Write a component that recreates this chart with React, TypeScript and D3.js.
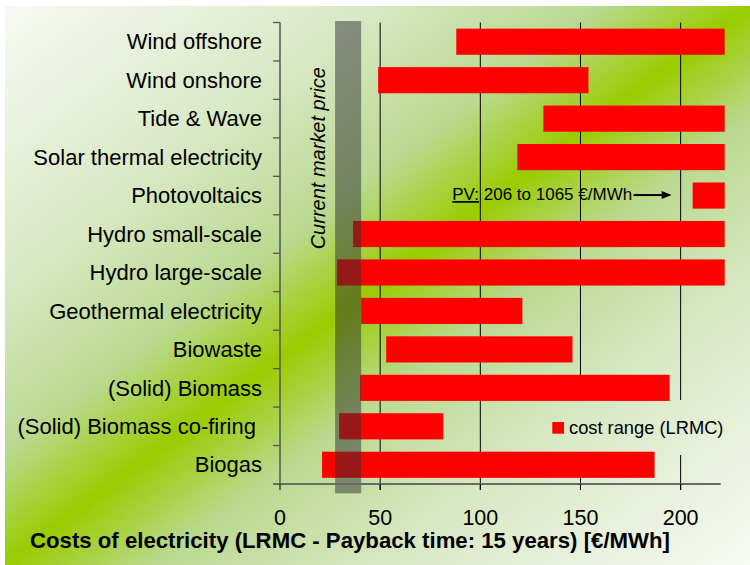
import React from "react";
import * as d3 from "d3";

const categories = [
  "Wind offshore",
  "Wind onshore",
  "Tide & Wave",
  "Solar thermal electricity",
  "Photovoltaics",
  "Hydro small-scale",
  "Hydro large-scale",
  "Geothermal electricity",
  "Biowaste",
  "(Solid) Biomass",
  "(Solid) Biomass co-firing ",
  "Biogas",
];
const costLow = [88, 49, 131.5, 118.5, 206, 36.5, 28.5, 40.5, 53, 40, 29.5, 21];
const costHigh = [222, 154, 222, 222, 222, 222, 222, 121, 146, 194.5, 81.5, 187];
const xTicks = [0, 50, 100, 150, 200];
const gridTicks = [50, 100, 150, 200];
const marketPrice = [27.5, 40.5];
const xDomain = [0, 220];
const legendLabel = "cost range (LRMC)";
const xTitle = "Costs of electricity (LRMC - Payback time: 15 years) [€/MWh]";
const bandLabel = "Current market price";
const pvNoteLead = "PV:";
const pvNoteRest = " 206 to 1065 €/MWh";
const pvNoteX = 86;
const pvArrow = [176.5, 195.5];

const W = 750;
const H = 565;
const FONT = "'Liberation Sans', Arial, sans-serif";

export default function App() {
  const left = 280;
  const right = 720.7;
  const top = 22.5;
  const bottom = 484;
  const x = d3.scaleLinear().domain(xDomain).range([left, right]);
  const y = d3
    .scaleBand<string>()
    .domain(categories)
    .range([top, bottom])
    .paddingInner(0.32)
    .paddingOuter(0.16);
  const step = y.step();
  const bw = y.bandwidth();
  const bgX = 5, bgY = 6, bgW = W - 5, bgH = H - 6;
  const pvCenter = (y("Photovoltaics") as number) + bw / 2;

  return (
    <div style={{ position: "fixed", left: 0, top: 0, width: W, height: H, background: "#fff" }}>
      <svg width={W} height={H} style={{ display: "block" }}>
        <defs>
          <linearGradient
            id="bg"
            gradientUnits="userSpaceOnUse"
            x1={0}
            y1={0}
            x2={1}
            y2={1}
            gradientTransform={`translate(${bgX},${bgY}) scale(${bgW},${bgH})`}
          >
            <stop offset="0" stopColor="#F7FAF3" />
            <stop offset="0.25" stopColor="#D8E8C4" />
            <stop offset="0.4" stopColor="#B9D98F" />
            <stop offset="0.5" stopColor="#99CC00" />
            <stop offset="0.6" stopColor="#B9D98F" />
            <stop offset="0.75" stopColor="#D8E8C4" />
            <stop offset="1" stopColor="#F7FAF3" />
          </linearGradient>
        </defs>
        <rect x={bgX} y={bgY} width={bgW} height={bgH} fill="url(#bg)" />

        {/* gridlines */}
        {gridTicks.map((t) => (
          <line key={"g" + t} x1={x(t)} x2={x(t)} y1={top} y2={bottom + 6} stroke="#000" strokeWidth={1} />
        ))}

        {/* legend background */}
        <rect x={545} y={400} width={185} height={55} fill="url(#bg)" />

        {/* bars */}
        {categories.map((c, i) => (
          <rect
            key={"b" + i}
            x={x(costLow[i])}
            y={y(c)}
            width={x(costHigh[i]) - x(costLow[i])}
            height={bw}
            fill="#FF0000"
          />
        ))}

        {/* market price band */}
        <rect
          x={x(marketPrice[0])}
          y={top - 1.5}
          width={x(marketPrice[1]) - x(marketPrice[0])}
          height={bottom - top + 10.8}
          fill="#303030"
          fillOpacity={0.5}
        />

        {/* y axis */}
        <line x1={left} x2={left} y1={top} y2={bottom} stroke="#555" strokeWidth={1.5} />
        {d3.range(categories.length + 1).map((i) => (
          <line key={"yt" + i} x1={left - 7} x2={left} y1={top + i * step} y2={top + i * step} stroke="#555" strokeWidth={1.3} />
        ))}
        {/* x axis */}
        <line x1={left - 7} x2={right} y1={bottom} y2={bottom} stroke="#6a6a6a" strokeWidth={2} />
        {xTicks.map((t) => (
          <line key={"xt" + t} x1={x(t)} x2={x(t)} y1={bottom} y2={bottom + 6} stroke="#000" strokeWidth={1} />
        ))}
        {xTicks.map((t) => (
          <text key={"xl" + t} x={x(t)} y={525} textAnchor="middle" fontFamily={FONT} fontSize={21.5} fill="#000">
            {t}
          </text>
        ))}

        {/* category labels */}
        {categories.map((c) => (
          <text
            key={"l" + c}
            x={262}
            y={(y(c) as number) + bw / 2}
            dy="0.35em"
            textAnchor="end"
            fontFamily={FONT}
            fontSize={22}
            fill="#000"
            style={{ whiteSpace: "pre" }}
          >
            {c}
          </text>
        ))}

        {/* axis title */}
        <text x={30} y={548} fontFamily={FONT} fontSize={22.2} fontWeight="bold" fill="#000">
          {xTitle}
        </text>

        {/* band label */}
        <text
          transform={`translate(325, ${(y("Wind onshore") as number) + bw / 2 + 78}) rotate(-90)`}
          textAnchor="middle"
          fontFamily={FONT}
          fontSize={20}
          fontStyle="italic"
          fill="#000"
        >
          {bandLabel}
        </text>

        {/* PV annotation */}
        <text x={x(pvNoteX)} y={pvCenter + 4.5} fontFamily={FONT} fontSize={17} fill="#000" style={{ whiteSpace: "pre" }}>
          <tspan textDecoration="underline">{pvNoteLead}</tspan>
          <tspan>{pvNoteRest}</tspan>
        </text>
        <line x1={x(pvArrow[0])} x2={x(pvArrow[1]) - 8} y1={pvCenter - 0.5} y2={pvCenter - 0.5} stroke="#000" strokeWidth={2} />
        <path
          d={`M${x(pvArrow[1])},${pvCenter - 0.5} L${x(pvArrow[1]) - 10},${pvCenter - 4.5} L${x(pvArrow[1]) - 10},${pvCenter + 3.5} Z`}
          fill="#000"
        />

        {/* legend */}
        <rect x={552.3} y={422} width={11.7} height={11.7} fill="#FF0000" />
        <text x={569} y={433.7} fontFamily={FONT} fontSize={18.3} fill="#000">
          {legendLabel}
        </text>
      </svg>
    </div>
  );
}
